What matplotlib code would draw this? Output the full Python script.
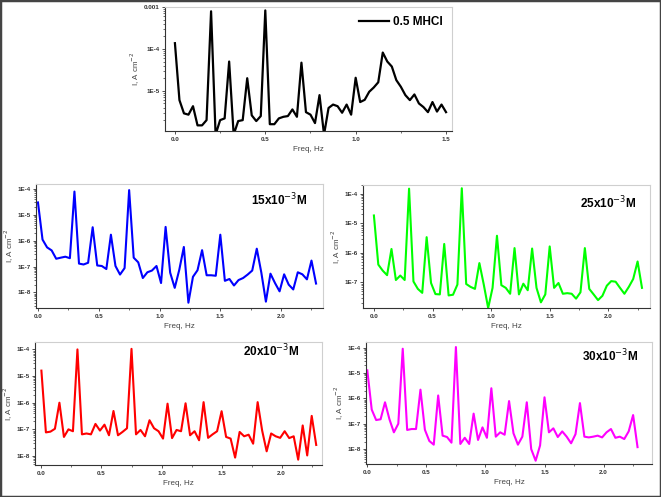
import numpy as np
import matplotlib
matplotlib.use("Agg")
import matplotlib.pyplot as plt
from matplotlib.patches import Rectangle
from matplotlib.ticker import FuncFormatter, LogLocator, MultipleLocator, NullFormatter

plt.rcParams['font.family'] = ['Liberation Sans', 'DejaVu Sans']

# 0.5 M HCl, 0 - 1.5 Hz in steps of 0.025
freq_hcl = np.arange(61) * 0.025
i_hcl = [1.37e-4, 6e-6, 2.9e-6, 2.7e-6, 4.3e-6, 1.5e-6, 1.5e-6, 2e-6, 7.9e-4, 9e-7,
         2e-6, 2.2e-6, 5e-5, 9e-7, 1.9e-6, 2e-6, 2e-5, 2.6e-6, 1.9e-6, 2.5e-6,
         8.3e-4, 1.6e-6, 1.6e-6, 2.2e-6, 2.4e-6, 2.5e-6, 3.6e-6, 2.4e-6, 4.7e-5, 3.1e-6,
         2.7e-6, 1.7e-6, 7.9e-6, 9e-7, 3.9e-6, 4.7e-6, 4.3e-6, 3e-6, 4.7e-6, 2.7e-6,
         2.05e-5, 5.4e-6, 6.1e-6, 9.5e-6, 1.2e-5, 1.6e-5, 8.2e-5, 5e-5, 3.8e-5, 1.8e-5,
         1.25e-5, 7.9e-6, 6e-6, 8.2e-6, 5e-6, 4.1e-6, 3.1e-6, 5.4e-6, 3.2e-6, 4.7e-6,
         3.1e-6]

# inhibitor concentrations, 0 - 2.2875 Hz in steps of 0.0375
freq = np.arange(62) * 0.0375
i_15 = [3e-5, 1.1e-6, 5.5e-7, 4.2e-7, 2e-7, 2.2e-7, 2.4e-7, 2.1e-7, 7.9e-5, 1.3e-7,
        1.2e-7, 1.4e-7, 3.3e-6, 1.1e-7, 1.05e-7, 8e-8, 1.7e-6, 1.05e-7, 4.9e-8, 8.7e-8,
        9e-5, 2.2e-7, 1.45e-7, 3.6e-8, 6e-8, 7e-8, 1.05e-7, 2.3e-8, 3.4e-6, 5.8e-8,
        1.5e-8, 7.5e-8, 5.7e-7, 4e-9, 4e-8, 7.2e-8, 4.3e-7, 4.6e-8, 4.6e-8, 4.4e-8,
        1.7e-6, 2.8e-8, 3.3e-8, 1.85e-8, 3e-8, 3.6e-8, 4.9e-8, 7e-8, 4.9e-7, 5.8e-8,
        4.4e-9, 5.3e-8, 2.3e-8, 1.1e-8, 5e-8, 2e-8, 1.3e-8, 6e-8, 5e-8, 3.2e-8,
        1.7e-7, 2.2e-8]
i_25 = [1.85e-5, 4e-7, 2.5e-7, 1.75e-7, 1.35e-6, 1.2e-7, 1.7e-7, 1.2e-7, 1.5e-4, 1.07e-7,
        6e-8, 4.4e-8, 3.4e-6, 9.5e-8, 4e-8, 3.9e-8, 2e-6, 3.6e-8, 3.8e-8, 8.4e-8,
        1.55e-4, 8.8e-8, 7e-8, 6e-8, 4.5e-7, 8.4e-8, 1.35e-8, 6.5e-8, 3.8e-6, 8e-8,
        6.5e-8, 4.1e-8, 1.45e-6, 3.9e-8, 9e-8, 5.4e-8, 1.4e-6, 6.5e-8, 2.1e-8, 3.9e-8,
        1.65e-6, 6.5e-8, 9.5e-8, 4.1e-8, 4.3e-8, 4.1e-8, 2.8e-8, 4.6e-8, 1.45e-6, 6e-8,
        3.9e-8, 2.5e-8, 3.5e-8, 7.7e-8, 1.1e-7, 1.05e-7, 6.5e-8, 4.1e-8, 7e-8, 1.3e-7,
        5.1e-7, 6.5e-8]
i_20 = [1.6e-5, 7.7e-8, 8.2e-8, 1.05e-7, 1e-6, 5.2e-8, 1e-7, 8.5e-8, 1e-4, 6.5e-8,
        7e-8, 6.5e-8, 1.6e-7, 9e-8, 1.5e-7, 6e-8, 4.9e-7, 6e-8, 8e-8, 1.1e-7,
        1.05e-4, 6.5e-8, 9.5e-8, 5.5e-8, 2.2e-7, 1.1e-7, 8.5e-8, 4.5e-8, 9.2e-7, 4.7e-8,
        9.5e-8, 8.5e-8, 9.5e-7, 6e-8, 8.5e-8, 3.9e-8, 1.05e-6, 4.8e-8, 6.5e-8, 8.5e-8,
        4.8e-7, 5.2e-8, 4.5e-8, 8.7e-9, 8e-8, 5.5e-8, 6.3e-8, 2.9e-8, 1.05e-6, 9e-8,
        1.5e-8, 7e-8, 5.5e-8, 4.8e-8, 8.5e-8, 4.7e-8, 5.5e-8, 7.3e-9, 1.4e-7, 1.05e-8,
        3.2e-7, 2.6e-8]
i_30 = [1.27e-5, 3.6e-7, 1.4e-7, 1.5e-7, 7e-7, 1.5e-7, 4.6e-8, 1e-7, 9e-5, 5.7e-8,
        6.2e-8, 6.2e-8, 2.2e-6, 5.8e-8, 2.1e-8, 1.5e-8, 1.3e-6, 3.4e-8, 3e-8, 1.8e-8,
        1.05e-4, 1.6e-8, 2.8e-8, 1.6e-8, 2.5e-7, 2.3e-8, 7.2e-8, 2.8e-8, 2.5e-6, 3.1e-8,
        4.6e-8, 3.7e-8, 7.8e-7, 4.2e-8, 1.5e-8, 3.1e-8, 7e-7, 1e-8, 3.5e-9, 1.4e-8,
        1.1e-6, 4.6e-8, 6.6e-8, 3e-8, 5e-8, 3.1e-8, 1.7e-8, 3.9e-8, 6.5e-7, 3.1e-8,
        2.9e-8, 3.1e-8, 3.4e-8, 2.9e-8, 4.6e-8, 6.2e-8, 2.8e-8, 3.1e-8, 2.5e-8, 5e-8,
        2.2e-7, 1.2e-8]


def log_label(v, pos):
    e = int(round(np.log10(v)))
    if e == -3:
        return '0.001'
    return f'1E{e}'


def style_axes(ax, xlim, ylim):
    ax.set_yscale('log')
    ax.set_xlim(*xlim)
    ax.set_ylim(*ylim)
    for s in ['top', 'right']:
        ax.spines[s].set_color('#cfcfcf')
        ax.spines[s].set_linewidth(0.8)
    for s in ['left', 'bottom']:
        ax.spines[s].set_color('#333333')
        ax.spines[s].set_linewidth(0.8)
    ax.xaxis.set_major_locator(MultipleLocator(0.5))
    ax.xaxis.set_minor_locator(MultipleLocator(0.25))
    ax.xaxis.set_major_formatter(FuncFormatter(lambda v, p: f'{v:.1f}'))
    ax.yaxis.set_major_locator(LogLocator(base=10, numticks=10))
    ax.yaxis.set_minor_locator(LogLocator(base=10, subs=np.arange(2, 10), numticks=20))
    ax.yaxis.set_major_formatter(FuncFormatter(log_label))
    ax.yaxis.set_minor_formatter(NullFormatter())
    ax.tick_params(which='major', direction='out', length=2.5, width=0.6, pad=1.5,
                   labelsize=4.5, colors='#333333')
    ax.tick_params(which='minor', direction='out', length=1.3, width=0.5, colors='#333333')
    for lab in ax.get_xticklabels() + ax.get_yticklabels():
        lab.set_fontweight('bold')
    ax.set_xlabel('Freq, Hz', fontsize=5.8, color='#444444', labelpad=3)
    ax.set_ylabel('I, A cm$^{-2}$', fontsize=5.8, color='#444444', labelpad=1)


fig = plt.figure(figsize=(6.61, 4.97), dpi=100)

# top panel - blank acid
ax0 = fig.add_axes([0.2496, 0.7364, 0.4342, 0.2495])
ax0.plot(freq_hcl, i_hcl, color='black', lw=1.6, label='0.5 MHCl')
style_axes(ax0, (-0.055, 1.533), (1.1e-6, 1e-3))
ax0.legend(loc='upper right', frameon=False, handlelength=2.6, handletextpad=0.3,
           borderaxespad=0.4, prop={'weight': 'bold', 'size': 8.5})

panels = [
    ([0.0545, 0.3803, 0.4342, 0.2495], i_15, 'blue', '15x10$^{-3}$M', (-0.016, 2.345), (1.55e-4, 2.5e-9), (0.75, 0.83)),
    ([0.549, 0.3803, 0.4342, 0.2475], i_25, '#00ff00', '25x10$^{-3}$M', (-0.094, 2.355), (2.0e-4, 1.35e-8), (0.755, 0.81)),
    ([0.053, 0.0644, 0.4342, 0.2475], i_20, 'red', '20x10$^{-3}$M', (-0.053, 2.336), (1.9e-4, 4.6e-9), (0.725, 0.88)),
    ([0.5537, 0.0664, 0.4327, 0.2455], i_30, '#ff00ff', '30x10$^{-3}$M', (-0.011, 2.41), (1.66e-4, 2.6e-9), (0.755, 0.84)),
]
for rect, vals, col, name, xl, yl, tpos in panels:
    ax = fig.add_axes(rect)
    ax.plot(freq, vals, color=col, lw=1.5)
    style_axes(ax, xl, (yl[1], yl[0]))
    ax.text(tpos[0], tpos[1], name, transform=ax.transAxes, fontsize=8.5,
            fontweight='bold', va='baseline')

# frame around the whole figure
fig.patches.append(Rectangle((0, 0), 1, 1, transform=fig.transFigure, fill=False,
                             edgecolor='#444444', lw=2.5))

fig.savefig('out.png', dpi=100)
